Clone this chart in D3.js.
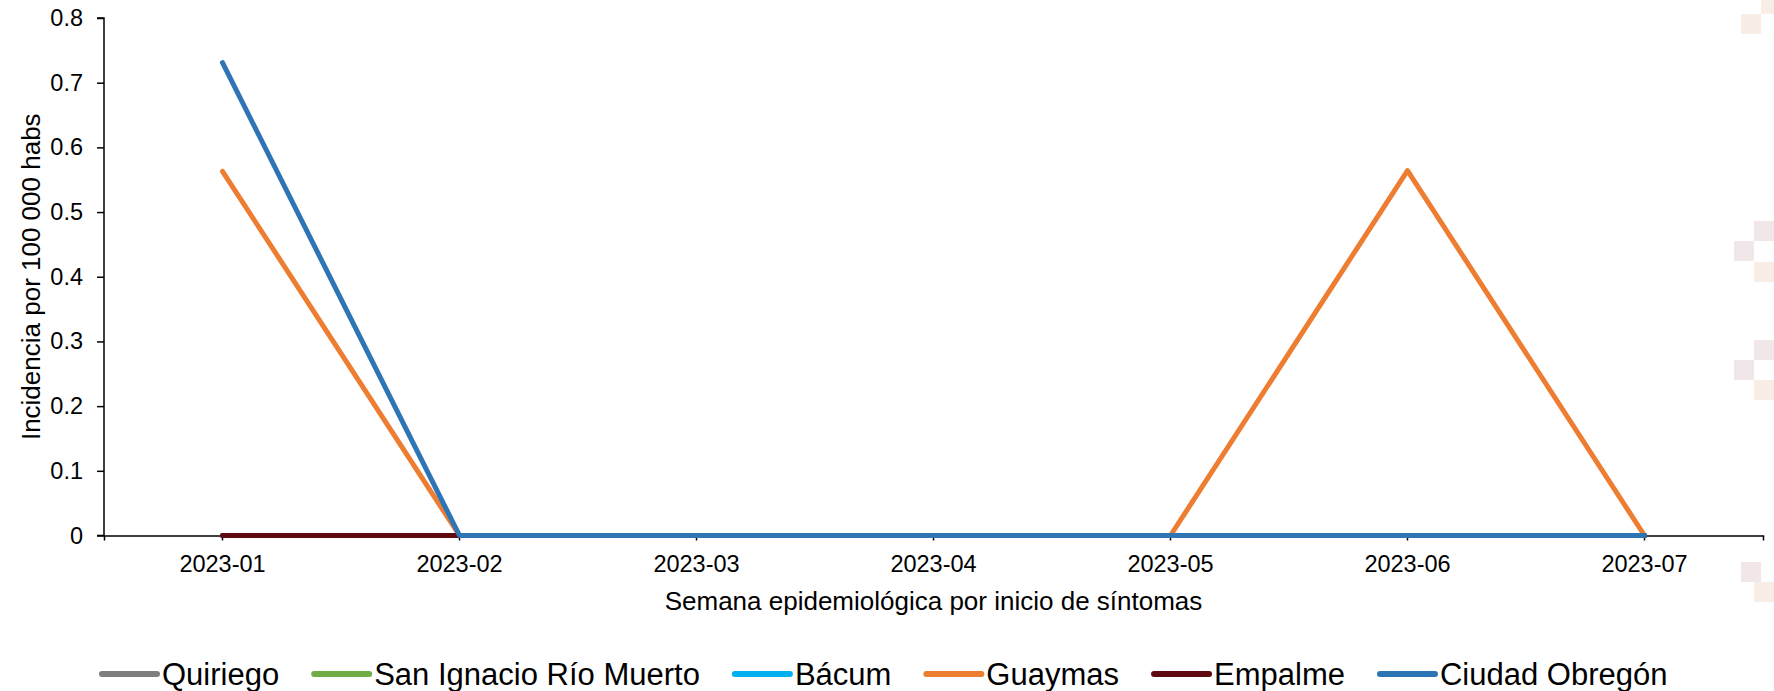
<!DOCTYPE html>
<html>
<head>
<meta charset="utf-8">
<script src="https://cdn.jsdelivr.net/npm/d3@7"></script>
<style>
  html, body { margin: 0; padding: 0; background: #fff; }
  svg { display: block; font-family: "Liberation Sans", Arial, sans-serif; }
  .axis path, .axis line { stroke: #000; stroke-width: 1.5; }
  .axis text { fill: #000; font-size: 23.5px; font-family: "Liberation Sans", Arial, sans-serif; }
</style>
</head>
<body>
<svg id="chart"></svg>
<script>
const weeks = ["2023-01", "2023-02", "2023-03", "2023-04", "2023-05", "2023-06", "2023-07"];
const yTicks = [0, 0.1, 0.2, 0.3, 0.4, 0.5, 0.6, 0.7, 0.8];

const quiriego = [0, 0, 0, 0, 0, 0, 0];
const sanIgnacio = [0, 0, 0, 0, 0, 0, 0];
const bacum = [0, 0, 0, 0, 0, 0, 0];
const guaymas = [0.563, 0, 0, 0, 0, 0.564, 0];
const empalme = [0, 0, 0, 0, 0, 0, 0];
const ciudadObregon = [0.731, 0, 0, 0, 0, 0, 0];

const series = [
  { name: "Quiriego", values: quiriego, color: "#7f7f7f" },
  { name: "San Ignacio Río Muerto", values: sanIgnacio, color: "#70ad47" },
  { name: "Bácum", values: bacum, color: "#00b0f0" },
  { name: "Guaymas", values: guaymas, color: "#ed7d31" },
  { name: "Empalme", values: empalme, color: "#5e0a0f" },
  { name: "Ciudad Obregón", values: ciudadObregon, color: "#2e75b6" },
];

const WIDTH = 1774;
const HEIGHT = 691;
const MARGINS = { left: 104, right: 11, top: 18, bottom: 155.5 };

const svg = d3.select("#chart").attr("width", WIDTH).attr("height", HEIGHT);

// background squares from the slide template
const deco = [
  [1761, 0, 13, 14, "#f9eee5"],
  [1741, 14, 20, 20, "#f9eee5"],
  [1754, 221, 20, 20, "#f1e6e8"],
  [1734, 241, 20, 20, "#f1e6e8"],
  [1754, 262, 20, 20, "#f9eee5"],
  [1754, 340, 20, 20, "#f1e6e8"],
  [1734, 360, 20, 20, "#f1e6e8"],
  [1754, 380, 20, 20, "#f9eee5"],
  [1741, 562, 20, 20, "#f1e6e8"],
  [1754, 582, 20, 20, "#f9eee5"],
];
svg.append("g").selectAll("rect").data(deco).join("rect")
  .attr("x", (d) => d[0]).attr("y", (d) => d[1])
  .attr("width", (d) => d[2]).attr("height", (d) => d[3])
  .attr("fill", (d) => d[4]);

const x = d3.scaleBand()
  .domain(weeks)
  .range([MARGINS.left, WIDTH - MARGINS.right])
  .paddingInner(0).paddingOuter(0);

const y = d3.scaleLinear()
  .domain([0, 0.8])
  .range([HEIGHT - MARGINS.bottom, MARGINS.top]);

const xc = (w) => x(w) + x.bandwidth() / 2;

// axes
svg.append("g")
  .attr("class", "axis")
  .attr("transform", `translate(${MARGINS.left}, 0)`)
  .call(d3.axisLeft(y).tickValues(yTicks).tickSize(7).tickPadding(14)
    .tickFormat((d) => (d === 0 ? "0" : d3.format(".1f")(d))))
  .call((g) => g.select(".domain").attr("d", `M-7,${y(0.8)}H0V${y(0)}H-7`));

svg.append("g")
  .attr("class", "axis")
  .attr("transform", `translate(0, ${y(0)})`)
  .call(d3.axisBottom(x).tickSizeInner(5).tickSizeOuter(5).tickPadding(14.5));

// lines
const line = d3.line()
  .x((d, i) => xc(weeks[i]))
  .y((d) => y(d));

svg.append("g")
  .selectAll("path")
  .data(series)
  .join("path")
  .attr("d", (s) => line(s.values))
  .attr("fill", "none")
  .attr("stroke", (s) => s.color)
  .attr("stroke-width", 5)
  .attr("stroke-linejoin", "round")
  .attr("stroke-linecap", "round");

// axis titles
svg.append("text")
  .attr("x", (MARGINS.left + WIDTH - MARGINS.right) / 2)
  .attr("y", 610)
  .attr("text-anchor", "middle")
  .attr("font-size", 26)
  .attr("fill", "#000")
  .text("Semana epidemiológica por inicio de síntomas");

svg.append("text")
  .attr("transform", `translate(40, ${(y(0) + y(0.8)) / 2}) rotate(-90)`)
  .attr("text-anchor", "middle")
  .attr("font-size", 26)
  .attr("fill", "#000")
  .text("Incidencia por 100 000 habs");

// legend
const legend = svg.append("g");
const LINE_LEN = 55;
const LINE_GAP = 5;
const ITEM_GAP = 35;
const LEGEND_X = 102;
const LEGEND_Y = 674;

const items = legend.selectAll("g")
  .data(series)
  .join("g");

items.append("line")
  .attr("x1", 0).attr("x2", LINE_LEN)
  .attr("y1", LEGEND_Y).attr("y2", LEGEND_Y)
  .attr("stroke", (s) => s.color)
  .attr("stroke-width", 6)
  .attr("stroke-linecap", "round");

items.append("text")
  .attr("x", LINE_LEN + LINE_GAP)
  .attr("y", LEGEND_Y)
  .attr("dy", "0.35em")
  .attr("font-size", 31)
  .attr("fill", "#000")
  .text((s) => s.name);

let offset = LEGEND_X;
items.attr("transform", function () {
  const tx = offset;
  const w = LINE_LEN + LINE_GAP + d3.select(this).select("text").node().getComputedTextLength();
  offset += w + ITEM_GAP;
  return `translate(${tx}, 0)`;
});
</script>
</body>
</html>
